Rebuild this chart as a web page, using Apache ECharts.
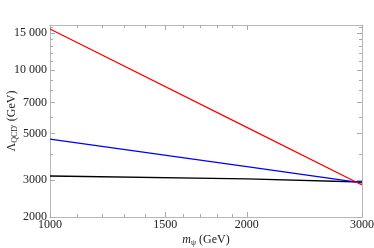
<!DOCTYPE html>
<html><head><meta charset="utf-8">
<script src="https://cdn.jsdelivr.net/npm/echarts@6/dist/echarts.min.js"></script>
<style>html,body{margin:0;padding:0;background:#fff}#c{width:374px;height:248px}</style>
</head><body><div id="c"></div>
<script>
// Data, log-log chart
const massGeV = [1000, 2000, 3000];
const redLambda = [15700, 5340, 2840];
const blueLambda = [4700, 3475, 2910];
const blackLambda = [3135, 3034, 2935];

const xRange = [1000, 3000];
const yRange = [2000, 16400];
const xMajorTicks = [1000, 1500, 2000, 3000];
const xMinorTicks = [1100, 1200, 1300, 1400, 1600, 1700, 1800, 1900];
const yMajorTicks = [2000, 3000, 5000, 7000, 10000, 15000];
const yMinorTicks = [4000, 6000, 8000, 9000, 11000, 12000, 13000, 14000, 16000];

const L = Math.log10;
const fmt = v => { const n = Math.round(Math.pow(10, v)); return n >= 10000 ? String(n).replace(/(\d+)(\d{3})$/, '$1 $2') : String(n); };
const font = 'Liberation Serif';
const frameColor = '#b8b8b8';

function mkAxis(kind, pos, ticks, len, showLine, showLabel, range, extra) {
  const a = {
    type: 'value', position: pos, min: L(range[0]), max: L(range[1]),
    splitLine: {show: false},
    axisLine: {show: showLine, onZero: false, lineStyle: {color: frameColor, width: 1}},
    axisTick: {show: true, inside: true, length: len, customValues: ticks.map(L), lineStyle: {color: '#aaa', width: 1}},
    axisLabel: {show: showLabel, customValues: ticks.map(L), formatter: fmt, fontFamily: font, fontSize: 12, color: '#222', margin: kind === 'x' ? 2 : 3}
  };
  return Object.assign(a, extra || {});
}

const xAxes = [
  mkAxis('x', 'bottom', xMajorTicks, 5, true, true, xRange, {
    name: '{i|m}{sub|ψ} (GeV)', nameLocation: 'middle', nameGap: 15, nameMoveOverlap: false,
    nameTextStyle: {fontFamily: font, fontSize: 12, color: '#222', rich: {i: {fontStyle: 'italic', fontFamily: font, fontSize: 12, color: '#222'}, sub: {fontFamily: font, fontSize: 8, color: '#222', padding: [7, 0, 0, 0]}}}
  }),
  mkAxis('x', 'bottom', xMinorTicks, 3, false, false, xRange),
  mkAxis('x', 'top', xMajorTicks, 5, true, false, xRange),
  mkAxis('x', 'top', xMinorTicks, 3, false, false, xRange)
];
const yAxes = [
  mkAxis('y', 'left', yMajorTicks, 5, true, true, yRange, {
    name: 'Λ{sub|QCD′} (GeV)', nameLocation: 'middle', nameGap: 31, nameRotate: 90, nameMoveOverlap: false,
    nameTextStyle: {fontFamily: font, fontSize: 12, color: '#222', rich: {sub: {fontFamily: font, fontSize: 8, color: '#222', padding: [7, 0, 0, 0]}}}
  }),
  mkAxis('y', 'left', yMinorTicks, 3, false, false, yRange),
  mkAxis('y', 'right', yMajorTicks, 5, true, false, yRange),
  mkAxis('y', 'right', yMinorTicks, 3, false, false, yRange)
];

function series(vals, color) {
  return {type: 'line', xAxisIndex: 0, yAxisIndex: 0, symbol: 'none', animation: false,
    lineStyle: {color: color, width: 1.3}, data: massGeV.map((m, i) => [L(m), L(vals[i])])};
}

const chart = echarts.init(document.getElementById('c'), null, {renderer: 'canvas'});
chart.setOption({
  animation: false,
  grid: {left: 50, right: 12, top: 25, bottom: 31, containLabel: false, outerBoundsMode: 'none'},
  xAxis: xAxes, yAxis: yAxes,
  series: [series(blackLambda, '#000000'), series(blueLambda, '#0000ff'), series(redLambda, '#ff0000')]
});
</script></body></html>
